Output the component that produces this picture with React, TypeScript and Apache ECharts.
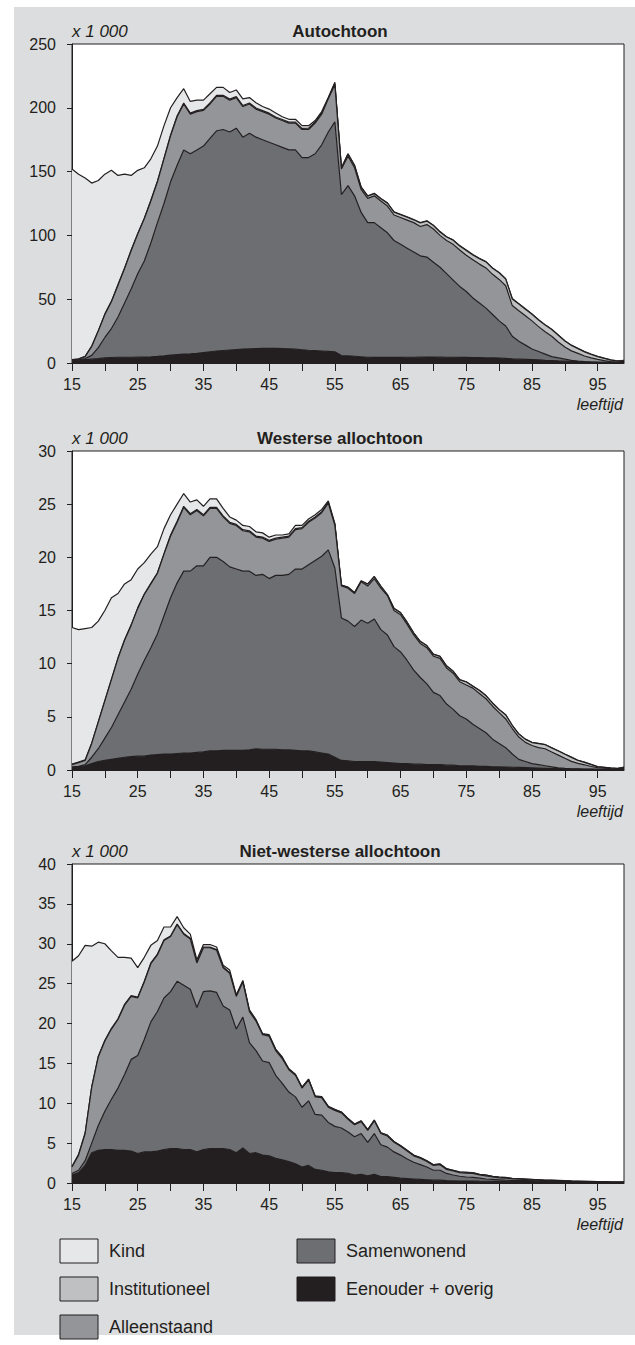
import React, { useEffect, useRef } from "react";
import * as echarts from "echarts";

// ---------- categories (age) ----------
const AGES = [
  "15","16","17","18","19","20","21","22","23","24",
  "25","26","27","28","29","30","31","32","33","34",
  "35","36","37","38","39","40","41","42","43","44",
  "45","46","47","48","49","50","51","52","53","54",
  "55","56","57","58","59","60","61","62","63","64",
  "65","66","67","68","69","70","71","72","73","74",
  "75","76","77","78","79","80","81","82","83","84",
  "85","86","87","88","89","90","91","92","93","94",
  "95","96","97","98","99",
];

// ---------- Autochtoon (x 1 000) ----------
const AUT_EENOUDER = [
  1.8,2.2,2.6,3.0,3.4,4.0,4.3,4.5,4.5,4.5,
  4.6,4.7,4.9,5.2,5.6,6.2,6.6,7.0,7.2,7.6,
  8.2,8.8,9.4,9.8,10.2,10.6,10.9,11.1,11.3,11.4,
  11.4,11.4,11.3,11.1,10.8,10.4,10.0,9.7,9.4,9.1,
  8.8,5.8,5.6,5.3,4.9,4.5,4.4,4.4,4.4,4.4,
  4.4,4.5,4.5,4.6,4.7,4.7,4.6,4.5,4.5,4.4,
  4.4,4.3,4.2,4.1,4.0,3.9,3.6,3.2,3.0,2.8,
  2.6,2.4,2.1,1.9,1.6,1.4,1.2,1.0,0.9,0.7,
  0.6,0.5,0.4,0.3,1.0,
];
const AUT_SAMEN = [
  0.2,0.3,0.9,3.0,8.6,16.0,22.7,31.5,42.5,53.5,
  65.4,75.3,89.1,104.8,119.4,135.8,148.4,160.0,156.8,159.4,
  161.8,167.2,172.6,173.2,170.8,173.4,166.1,168.9,165.7,163.6,
  161.6,159.6,157.7,155.9,156.2,150.6,151.0,154.3,161.6,171.9,
  180.2,126.2,133.4,125.7,113.1,105.5,105.6,101.6,97.6,91.6,
  88.6,85.5,82.5,79.4,78.3,74.3,70.4,65.5,60.5,55.6,
  51.6,46.7,42.8,38.9,34.0,29.1,25.4,17.8,14.0,11.2,
  8.4,6.6,4.9,3.1,2.4,1.6,0.8,0.5,0.2,0.1,
  0.05,0.02,0.02,0.02,0.02,
];
const AUT_ALLEEN = [
  0.3,0.5,1.5,7,13,18,21,25,27,30,
  31,33,33,32,35,36,38,36,31,30,
  28,27,27,26,25,24,24,23,22,22,
  22,21,21,21,21,22,22,24,24,26,
  29,20,23,22,18,19,21,21,21,20,
  21,22,23,23,25.5,26,25,26,28,28.5,
  28.5,30,30.5,31.5,31.5,32.5,31.5,24,24,23,
  22,19.5,17.5,16,12.5,9.5,7.5,6,4.4,3.2,
  2.15,1.28,0.68,0.38,0.28,
];
const AUT_INST = [
  0.3,0.3,0.3,0.3,0.3,0.5,0.5,0.5,0.5,0.5,
  0.5,0.5,0.5,0.5,0.5,0.8,0.8,0.8,0.8,0.8,
  0.8,0.8,0.8,0.8,0.8,0.8,0.8,0.8,0.8,0.8,
  0.8,0.8,0.8,0.8,0.8,0.8,1.0,1.0,1.0,0.6,
  1.0,0.8,1.7,1.7,1.7,1.7,1.7,1.7,2.2,2.2,
  2.2,2.2,2.2,2.7,2.7,2.7,2.7,2.7,3.2,3.2,
  3.7,3.7,4.2,4.7,4.7,5.2,5.2,5.2,5.2,5.2,
  5.2,5.2,5.2,5.2,5.2,4.7,4.2,3.7,3.2,2.7,
  2.2,1.8,1.2,0.8,0.6,
];
const AUT_KIND = [
  149.4,144.7,139.7,127.7,117.7,109.5,102.5,85.5,73.5,58.5,
  49.5,39.5,32.5,27.5,25.5,21.2,14.2,11.2,9.2,8.2,
  7.2,7.2,6.2,6.2,5.2,5.2,5.2,4.2,4.2,3.2,
  3.2,3.2,2.2,2.2,2.2,2.2,2.0,1.0,1.0,0.4,
  1.0,0.2,0.3,0.3,0.3,0.3,0.3,0.3,0.3,0.3,
  0.3,0.3,0.3,0.3,0.3,0.3,0.3,0.3,0.3,0.3,
  0.3,0.3,0.3,0.3,0.3,0.3,0.3,0.3,0.3,0.3,
  0.3,0.3,0.3,0.3,0.3,0.3,0.3,0.3,0.3,0.3,
  0.2,0.2,0.2,0.1,0.1,
];

// ---------- Westerse allochtoon (x 1 000) ----------
const WES_EENOUDER = [
  0.2,0.3,0.4,0.6,0.8,0.9,1.0,1.1,1.2,1.25,
  1.3,1.3,1.4,1.45,1.5,1.5,1.55,1.6,1.6,1.65,
  1.7,1.8,1.8,1.85,1.85,1.85,1.85,1.9,2.0,1.95,
  1.95,1.95,1.9,1.9,1.85,1.8,1.8,1.7,1.6,1.5,
  1.2,0.9,0.85,0.8,0.8,0.8,0.8,0.75,0.7,0.65,
  0.6,0.6,0.55,0.55,0.5,0.5,0.5,0.45,0.45,0.4,
  0.4,0.4,0.35,0.35,0.3,0.3,0.28,0.26,0.24,0.22,
  0.2,0.18,0.16,0.14,0.12,0.1,0.09,0.08,0.07,0.06,
  0.05,0.04,0.03,0.03,0.1,
];
const WES_SAMEN = [
  0.1,0.05,0.1,0.6,1.2,2.1,3.0,4.1,5.2,6.35,
  7.7,9.0,10.1,11.35,13.0,14.7,16.05,17.1,17.1,17.55,
  17.5,18.2,18.2,17.75,17.25,17.05,16.85,16.8,16.3,16.45,
  16.05,16.35,16.4,16.5,17.05,17.1,17.5,18.0,18.5,19.2,
  17.8,13.4,13.15,12.7,13.3,13.0,13.4,12.45,12.0,10.95,
  10.5,9.7,8.85,8.15,7.6,6.8,6.5,5.75,5.25,4.7,
  4.4,3.9,3.55,3.15,2.6,2.2,1.82,1.24,0.76,0.58,
  0.4,0.32,0.24,0.16,0.08,0.05,0.02,0.02,0.02,0.02,
  0.02,0.02,0.02,0.02,0.02,
];
const WES_ALLEEN = [
  0.2,0.35,0.4,1.3,2.5,3.5,4.5,5.3,5.8,6.0,
  6.2,6.2,6.0,5.7,5.8,5.8,5.7,6.0,5.3,5.2,
  4.7,4.6,4.6,4.2,4.1,4.1,3.8,3.7,3.6,3.4,
  3.5,3.4,3.5,3.5,3.7,3.8,4.0,4.0,4.1,4.4,
  4.0,3.0,3.1,3.1,3.6,3.5,3.8,3.9,3.7,3.4,
  3.5,3.4,3.3,3.2,3.4,3.4,3.5,3.4,3.4,3.2,
  3.2,3.4,3.3,3.2,3.1,2.9,2.7,2.4,2.1,1.8,
  1.7,1.6,1.6,1.4,1.2,0.95,0.7,0.52,0.4,0.25,
  0.15,0.12,0.08,0.05,0.05,
];
const WES_INST = [
  0.05,0.05,0.05,0.05,0.05,0.05,0.05,0.05,0.05,0.05,
  0.05,0.05,0.05,0.05,0.05,0.1,0.1,0.1,0.1,0.1,
  0.1,0.1,0.1,0.1,0.1,0.1,0.1,0.1,0.1,0.1,
  0.1,0.1,0.1,0.1,0.1,0.1,0.1,0.1,0.1,0.1,
  0.1,0.08,0.08,0.08,0.08,0.18,0.18,0.18,0.08,0.18,
  0.18,0.18,0.18,0.18,0.18,0.18,0.18,0.18,0.18,0.18,
  0.28,0.18,0.28,0.28,0.28,0.28,0.38,0.28,0.28,0.28,
  0.28,0.38,0.38,0.38,0.38,0.38,0.38,0.28,0.23,0.18,
  0.08,0.06,0.05,0.03,0.08,
];
const WES_KIND = [
  12.85,12.45,12.35,10.85,9.45,8.45,7.65,6.05,5.25,4.25,
  3.65,2.95,2.75,2.45,2.35,1.9,1.6,1.2,1.1,0.9,
  0.8,0.8,0.8,0.7,0.5,0.4,0.4,0.4,0.4,0.4,
  0.3,0.3,0.2,0.2,0.3,0.2,0.2,0.2,0.2,0.1,
  0.1,0.02,0.02,0.02,0.02,0.02,0.02,0.02,0.02,0.02,
  0.02,0.02,0.02,0.02,0.02,0.02,0.02,0.02,0.02,0.02,
  0.02,0.02,0.02,0.02,0.02,0.02,0.02,0.02,0.02,0.02,
  0.02,0.02,0.02,0.02,0.02,0.02,0.02,0.02,0.02,0.02,
  0.02,0.02,0.02,0.02,0.02,
];

// ---------- Niet-westerse allochtoon (x 1 000) ----------
const NW_EENOUDER = [
  1.0,1.3,2.2,3.8,4.1,4.2,4.2,4.1,4.1,4.0,
  3.7,3.9,3.9,4.0,4.2,4.3,4.3,4.2,4.2,3.9,
  4.2,4.3,4.3,4.3,4.2,3.8,4.4,3.7,3.8,3.5,
  3.4,3.1,2.9,2.7,2.4,2.0,2.2,1.7,1.6,1.4,
  1.3,1.3,1.2,1.0,1.1,0.9,1.1,0.8,0.8,0.7,
  0.6,0.55,0.5,0.45,0.4,0.35,0.35,0.3,0.28,0.25,
  0.25,0.25,0.23,0.22,0.2,0.2,0.2,0.25,0.25,0.25,
  0.25,0.22,0.2,0.2,0.18,0.16,0.15,0.13,0.12,0.1,
  0.08,0.07,0.05,0.04,0.04,
];
const NW_SAMEN = [
  0.2,0.3,0.6,1.2,3.1,4.8,6.3,7.8,9.5,11.5,
  12.3,14.1,16.3,17.5,19.0,19.7,21.0,20.6,20.1,18.1,
  19.8,19.8,19.6,17.9,17.5,15.5,16.4,13.9,12.8,11.8,
  11.7,10.4,9.6,8.7,8.4,7.5,8.1,6.9,6.9,6.2,
  5.8,5.6,5.2,4.8,5.1,4.2,5.1,4.0,3.7,3.2,
  2.9,2.45,2.1,1.85,1.6,1.25,1.25,0.9,0.72,0.6,
  0.5,0.45,0.37,0.28,0.25,0.2,0.15,0.06,0.05,0.04,
  0.03,0.03,0.02,0.02,0.02,0.02,0.01,0.01,0.01,0.01,
  0.01,0.01,0.01,0.01,0.01,
];
const NW_ALLEEN = [
  0.8,1.9,3.4,7.0,8.6,8.8,8.8,8.6,8.7,7.9,
  7.2,7.2,7.3,7.1,7.2,6.9,7.1,6.4,6.3,5.6,
  5.5,5.4,5.3,4.8,4.6,4.1,4.4,3.9,3.7,3.3,
  3.3,3.1,3.1,2.8,2.7,2.4,2.6,2.2,2.2,1.9,
  2.0,1.9,1.6,1.5,1.5,1.5,1.6,1.4,1.4,1.2,
  1.1,1.0,0.8,0.8,0.7,0.6,0.7,0.5,0.5,0.45,
  0.5,0.5,0.4,0.4,0.3,0.25,0.25,0.2,0.18,0.15,
  0.12,0.1,0.08,0.07,0.06,0.05,0.04,0.04,0.03,0.03,
  0.03,0.02,0.02,0.02,0.02,
];
const NW_INST = [
  0.1,0.1,0.1,0.1,0.1,0.1,0.1,0.1,0.1,0.1,
  0.1,0.1,0.1,0.1,0.1,0.08,0.08,0.08,0.08,0.08,
  0.08,0.08,0.08,0.08,0.08,0.08,0.08,0.08,0.08,0.08,
  0.08,0.08,0.08,0.08,0.08,0.08,0.08,0.08,0.08,0.08,
  0.08,0.08,0.08,0.08,0.08,0.08,0.08,0.08,0.08,0.08,
  0.08,0.08,0.08,0.08,0.08,0.08,0.08,0.08,0.08,0.08,
  0.08,0.08,0.08,0.08,0.08,0.08,0.08,0.04,0.04,0.04,
  0.04,0.04,0.04,0.04,0.04,0.04,0.04,0.04,0.04,0.04,
  0.04,0.04,0.04,0.04,0.04,
];
const NW_KIND = [
  25.7,24.9,23.5,17.6,14.3,12.1,9.7,7.7,5.9,4.7,
  3.7,3.0,2.2,1.7,1.6,1.12,0.92,0.72,0.52,0.32,
  0.32,0.32,0.32,0.22,0.32,0.12,0.12,0.12,0.12,0.05,
  0.12,0.12,0.12,0.05,0.05,0.05,0.05,0.05,0.05,0.05,
  0.05,0.02,0.02,0.02,0.02,0.02,0.02,0.02,0.02,0.02,
  0.02,0.02,0.02,0.02,0.02,0.02,0.02,0.02,0.02,0.02,
  0.02,0.02,0.02,0.02,0.02,0.02,0.02,0.02,0.02,0.02,
  0.02,0.02,0.02,0.02,0.02,0.02,0.02,0.02,0.02,0.02,
  0.02,0.02,0.02,0.02,0.02,
];

// ---------- labels / styles ----------
const LAYER_NAMES = ["Eenouder + overig", "Samenwonend", "Alleenstaand", "Institutioneel", "Kind"];
const LAYER_COLORS = ["#231f20", "#6d6e71", "#939598", "#bfc0c2", "#e6e7e8"];
const LEGEND_ORDER = [
  { name: "Kind", color: "#e6e7e8", col: 0, row: 0 },
  { name: "Institutioneel", color: "#bfc0c2", col: 0, row: 1 },
  { name: "Alleenstaand", color: "#939598", col: 0, row: 2 },
  { name: "Samenwonend", color: "#6d6e71", col: 1, row: 0 },
  { name: "Eenouder + overig", color: "#231f20", col: 1, row: 1 },
];
const PANEL_TITLES = ["Autochtoon", "Westerse allochtoon", "Niet-westerse allochtoon"];
const Y_MAX = [250, 30, 40];
const Y_INTERVAL = [50, 5, 5];
const UNIT_LABEL = "x 1 000";
const X_NAME = "leeftijd";

const PANEL_DATA = [
  [AUT_EENOUDER, AUT_SAMEN, AUT_ALLEEN, AUT_INST, AUT_KIND],
  [WES_EENOUDER, WES_SAMEN, WES_ALLEEN, WES_INST, WES_KIND],
  [NW_EENOUDER, NW_SAMEN, NW_ALLEEN, NW_INST, NW_KIND],
];

const FONT = "'Liberation Sans', Arial, Helvetica, sans-serif";
const INK = "#231f20";
const BG = "#dcddde";
const GRID_LEFT = 72;
const GRID_WIDTH = 552;
const GRID_HEIGHT = 319;
const GRID_TOPS = [44, 451, 864];

export default function App() {
  const ref = useRef<HTMLDivElement>(null);

  useEffect(() => {
    if (!ref.current) return;
    const chart = echarts.init(ref.current, null, { renderer: "svg" });

    const grids = GRID_TOPS.map((top) => ({
      left: GRID_LEFT,
      top,
      width: GRID_WIDTH,
      height: GRID_HEIGHT,
      show: true,
      backgroundColor: "#ffffff",
      borderColor: INK,
      borderWidth: 1,
    }));

    const xAxes = GRID_TOPS.map((_, i) => ({
      type: "category",
      gridIndex: i,
      data: AGES,
      boundaryGap: false,
      axisLine: { show: true, lineStyle: { color: INK, width: 1 } },
      axisTick: {
        show: true,
        length: 8,
        interval: (idx: number) => idx % 5 === 0,
        lineStyle: { color: INK, width: 1 },
      },
      axisLabel: {
        show: true,
        interval: (idx: number) => idx % 10 === 0,
        fontSize: 16,
        fontFamily: FONT,
        color: INK,
        margin: 13,
        hideOverlap: false,
      },
      splitLine: { show: false },
    }));

    const yAxes = GRID_TOPS.map((_, i) => ({
      type: "value",
      gridIndex: i,
      min: 0,
      max: Y_MAX[i],
      interval: Y_INTERVAL[i],
      axisLine: { show: true, lineStyle: { color: INK, width: 1 } },
      axisTick: { show: true, length: 5, lineStyle: { color: INK, width: 1 } },
      axisLabel: { fontSize: 16, fontFamily: FONT, color: INK, margin: 16 },
      splitLine: { show: false },
    }));

    const series: any[] = [];
    PANEL_DATA.forEach((layers, p) => {
      layers.forEach((values, k) => {
        series.push({
          type: "line",
          name: LAYER_NAMES[k],
          xAxisIndex: p,
          yAxisIndex: p,
          stack: "panel" + p,
          data: values,
          symbol: "none",
          showSymbol: false,
          z: 10 - k,
          lineStyle: { color: INK, width: 1.2 },
          itemStyle: { color: LAYER_COLORS[k] },
          areaStyle: { color: LAYER_COLORS[k], opacity: 1 },
        });
      });
    });

    const graphics: any[] = [
      {
        type: "rect",
        z: -100,
        silent: true,
        shape: { x: 14, y: 7, width: 640, height: 1328 },
        style: { fill: BG },
      },
    ];
    GRID_TOPS.forEach((top, i) => {
      graphics.push({
        type: "text",
        x: GRID_LEFT,
        y: top - 13,
        style: {
          text: UNIT_LABEL,
          font: "italic 17px " + FONT,
          fill: INK,
          textAlign: "left",
          textVerticalAlign: "middle",
        },
      });
      graphics.push({
        type: "text",
        x: 340,
        y: top - 13,
        style: {
          text: PANEL_TITLES[i],
          font: "bold 17px " + FONT,
          fill: INK,
          textAlign: "center",
          textVerticalAlign: "middle",
        },
      });
      graphics.push({
        type: "text",
        x: 623,
        y: top + GRID_HEIGHT + 41,
        style: {
          text: X_NAME,
          font: "italic 16px " + FONT,
          fill: INK,
          textAlign: "right",
          textVerticalAlign: "middle",
        },
      });
    });
    LEGEND_ORDER.forEach((item) => {
      const bx = item.col === 0 ? 60 : 297;
      const by = 1239 + item.row * 38;
      graphics.push({
        type: "rect",
        shape: { x: bx, y: by, width: 38, height: 24 },
        style: { fill: item.color, stroke: INK, lineWidth: 1 },
      });
      graphics.push({
        type: "text",
        x: bx + 49,
        y: by + 12,
        style: {
          text: item.name,
          font: "18px " + FONT,
          fill: INK,
          textAlign: "left",
          textVerticalAlign: "middle",
        },
      });
    });

    chart.setOption({
      animation: false,
      backgroundColor: "#ffffff",
      textStyle: { fontFamily: FONT },
      grid: grids,
      xAxis: xAxes,
      yAxis: yAxes,
      series,
      graphic: graphics,
    });

    return () => chart.dispose();
  }, []);

  return (
    <div
      ref={ref}
      style={{ position: "absolute", left: 0, top: 0, width: 635, height: 1345 }}
    />
  );
}
